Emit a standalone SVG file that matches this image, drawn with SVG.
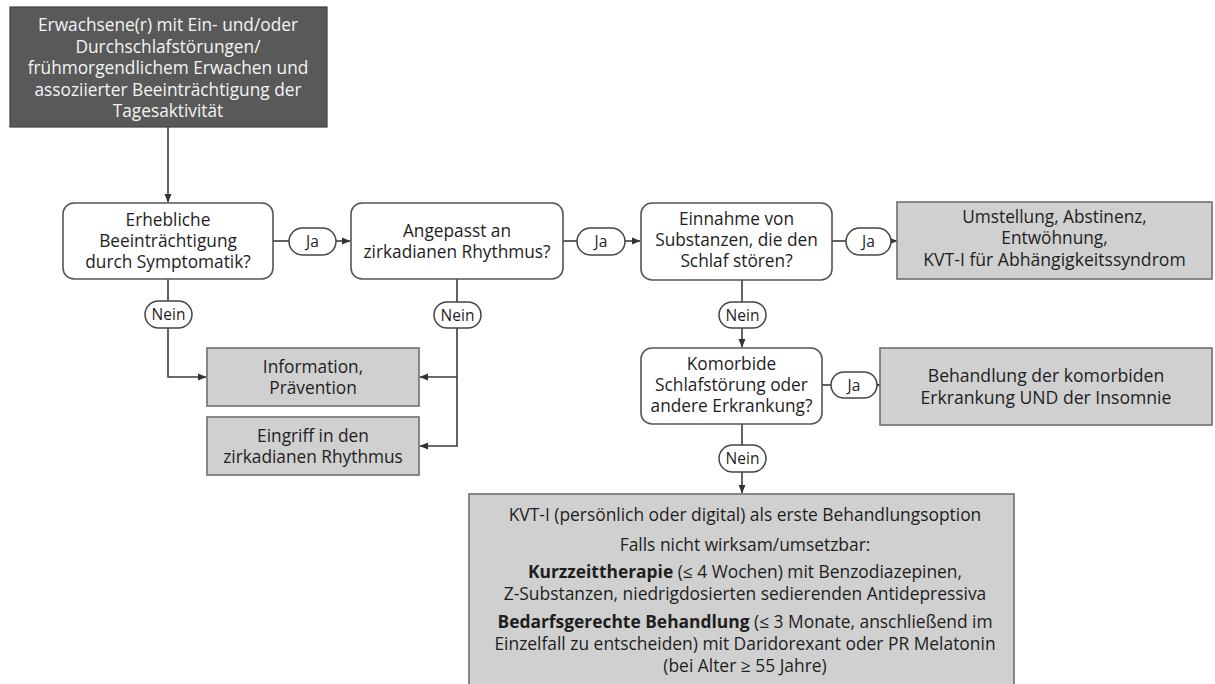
<svg xmlns="http://www.w3.org/2000/svg" width="1215" height="684" viewBox="0 0 1215 684">
<style>
text{font-family:"Open Sans","Noto Sans","Liberation Sans",sans-serif;font-size:17.3px;fill:#1e1e1e;text-anchor:middle}
.w{fill:#f4f4f4;font-size:17.3px}
.q{fill:#fff;stroke:#555;stroke-width:1.6}
.g{fill:#d0d0d0;stroke:#6e6e6e;stroke-width:1.6}
.d{fill:#595959;stroke:#404040;stroke-width:1.2}
.p{fill:#fff;stroke:#444;stroke-width:1.5}
.pt{font-size:15.5px}
.s{font-size:17.4px}
.r{font-size:17.6px}
.c{fill:none;stroke:#3c3c3c;stroke-width:1.6}
.a{marker-end:url(#ah)}
.b{font-weight:700}
</style>
<defs>
<marker id="ah" markerWidth="9" markerHeight="8" refX="8" refY="4" orient="auto" markerUnits="userSpaceOnUse"><path d="M0,0.5 L8.5,4 L0,7.5 z" fill="#333"/></marker>
</defs>
<g id="connectors">
<path class="c a" d="M168 127 V202"/>
<path class="c" d="M273 241 H289"/><path class="c a" d="M336 241 H350"/>
<path class="c" d="M563 241 H577"/><path class="c a" d="M625 241 H640"/>
<path class="c" d="M832 241 H846"/><path class="c a" d="M891 241 H897"/>
<path class="c" d="M168 279 V301"/><path class="c a" d="M168 328 V377 H206"/>
<path class="c" d="M457 279 V302"/><path class="c a" d="M457 328 V446 H420"/><path class="c a" d="M457 377 H420"/>
<path class="c" d="M742 280 V302"/><path class="c a" d="M742 328 V347"/>
<path class="c" d="M822 385 H831"/><path class="c a" d="M877 385 H880"/>
<path class="c" d="M742 424 V445"/><path class="c a" d="M742 472 V493"/>
</g>
<g id="start">
<rect class="d" x="10" y="7" width="317" height="120"/>
<text class="w" x="168" y="31">Erwachsene(r) mit Ein- und/oder</text>
<text class="w" x="168" y="52.5">Durchschlafstörungen/</text>
<text class="w" x="168" y="74">frühmorgendlichem Erwachen und</text>
<text class="w" x="168" y="95.5">assoziierter Beeinträchtigung der</text>
<text class="w" x="168" y="117">Tagesaktivität</text>
</g>
<g id="q1">
<rect class="q" x="63" y="203" width="210" height="76" rx="11"/>
<text x="168" y="226">Erhebliche</text>
<text x="168" y="247">Beeinträchtigung</text>
<text x="168" y="268">durch Symptomatik?</text>
</g>
<g id="ja1"><rect class="p" x="289" y="228" width="47" height="27" rx="13.5"/><text class="pt" x="312.5" y="247">Ja</text></g>
<g id="q2">
<rect class="q" x="351" y="203" width="212" height="76" rx="11"/>
<text x="457" y="237">Angepasst an</text>
<text x="457" y="258">zirkadianen Rhythmus?</text>
</g>
<g id="ja2"><rect class="p" x="577" y="228" width="48" height="27" rx="13.5"/><text class="pt" x="601" y="247">Ja</text></g>
<g id="q3">
<rect class="q" x="641" y="203" width="191" height="77" rx="11"/>
<text x="736.5" y="225">Einnahme von</text>
<text x="736.5" y="246">Substanzen, die den</text>
<text x="736.5" y="267">Schlaf stören?</text>
</g>
<g id="ja3"><rect class="p" x="846" y="228" width="45" height="27" rx="13.5"/><text class="pt" x="868.5" y="247">Ja</text></g>
<g id="r-umstellung">
<rect class="g" x="897" y="202" width="315" height="77"/>
<text x="1054.5" y="222.5">Umstellung, Abstinenz,</text>
<text x="1054.5" y="244">Entwöhnung,</text>
<text class="r" x="1054.5" y="265.5">KVT-I für Abhängigkeitssyndrom</text>
</g>
<g id="nein1"><rect class="p" x="145" y="301" width="47" height="27" rx="13.5"/><text class="pt" x="168.5" y="320">Nein</text></g>
<g id="nein2"><rect class="p" x="434" y="302" width="47" height="26" rx="13"/><text class="pt" x="457.5" y="320.5">Nein</text></g>
<g id="nein3"><rect class="p" x="719" y="302" width="47" height="26" rx="13"/><text class="pt" x="742.5" y="320.5">Nein</text></g>
<g id="r-info">
<rect class="g" x="207" y="348" width="212" height="58"/>
<text x="313" y="373">Information,</text>
<text x="313" y="394">Prävention</text>
</g>
<g id="r-eingriff">
<rect class="g" x="207" y="417" width="212" height="58"/>
<text x="313" y="442">Eingriff in den</text>
<text x="313" y="463">zirkadianen Rhythmus</text>
</g>
<g id="q4">
<rect class="q" x="641" y="348" width="181" height="76" rx="11"/>
<text x="731.5" y="370">Komorbide</text>
<text x="731.5" y="391">Schlafstörung oder</text>
<text x="731.5" y="412">andere Erkrankung?</text>
</g>
<g id="ja4"><rect class="p" x="831" y="372" width="46" height="26" rx="13"/><text class="pt" x="854" y="390.5">Ja</text></g>
<g id="r-behandlung">
<rect class="g" x="880" y="348" width="332" height="77"/>
<text class="r" x="1046" y="382">Behandlung der komorbiden</text>
<text class="r" x="1046" y="404">Erkrankung UND der Insomnie</text>
</g>
<g id="nein4"><rect class="p" x="719" y="445" width="47" height="27" rx="13.5"/><text class="pt" x="742.5" y="464">Nein</text></g>
<g id="r-kvt">
<rect class="g" x="469" y="494" width="545" height="200"/>
<text class="s" x="745" y="521">KVT-I (persönlich oder digital) als erste Behandlungsoption</text>
<text class="s" x="745" y="551">Falls nicht wirksam/umsetzbar:</text>
<text class="s" x="745" y="578"><tspan class="b">Kurzzeittherapie</tspan> (≤ 4 Wochen) mit Benzodiazepinen,</text>
<text class="s" x="745" y="600">Z-Substanzen, niedrigdosierten sedierenden Antidepressiva</text>
<text class="s" x="745" y="628"><tspan class="b">Bedarfsgerechte Behandlung</tspan> (≤ 3 Monate, anschließend im</text>
<text class="s" x="745" y="650">Einzelfall zu entscheiden) mit Daridorexant oder PR Melatonin</text>
<text class="s" x="745" y="672">(bei Alter ≥ 55 Jahre)</text>
</g>
</svg>
